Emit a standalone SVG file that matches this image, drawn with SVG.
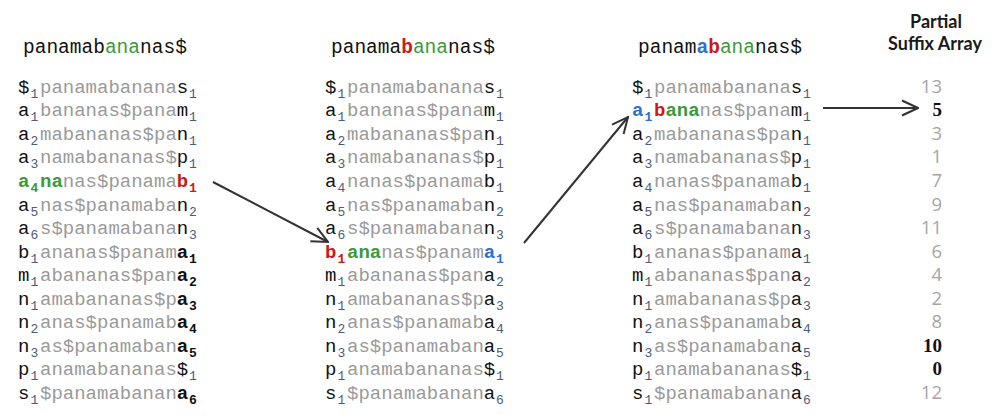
<svg xmlns="http://www.w3.org/2000/svg" width="1000" height="415" viewBox="0 0 1000 415">
<defs>
<style>
text{font-family:"Liberation Mono",monospace;font-size:19px}
.hd{font-size:19.5px;fill:#111}
.k{fill:#111}
.kb{fill:#111;font-weight:bold}
.g{fill:#9a9a9a}
.s{font-size:13px;fill:#4a5c7c}
.sb{font-size:13px;fill:#111;font-weight:bold}
.gb{fill:#3a9a3a;font-weight:bold}
.rb{fill:#cc1a1a;font-weight:bold}
.bb{fill:#2f6fd0;font-weight:bold}
.gn{fill:#3a9a3a}
.sa{font-family:"Open Sans",sans-serif;font-size:18.5px;fill:#a6a6a6;text-anchor:end}
.sab{font-family:"Liberation Serif",serif;font-size:19px;font-weight:bold;fill:#111;text-anchor:end}
.ttl{font-family:"Lato","Open Sans",sans-serif;font-size:18px;font-weight:bold;fill:#1a1a1a;text-anchor:middle}
.arr{stroke:#333;stroke-width:2;fill:none}
</style>
<marker id="ah" viewBox="0 0 18 18" markerWidth="18" markerHeight="18" refX="17" refY="9" orient="auto" markerUnits="userSpaceOnUse">
<path d="M1,1.5 L17,9 L1,16.5" fill="none" stroke="#333" stroke-width="2"/>
</marker>
</defs>
<rect width="1000" height="415" fill="#fff"/>

<g id="col1">
<text class="hd" x="23" y="53">panamab<tspan class="gn">ana</tspan>nas$</text>
<g transform="translate(18,93)"><text><tspan class="k" x="0" y="0">$</tspan><tspan class="s" x="12.5" y="5">1</tspan><tspan class="g" x="22" y="0">panamabanana</tspan><tspan class="k" x="158.8" y="0">s</tspan><tspan class="s" x="171" y="5">1</tspan></text></g>
<g transform="translate(18,116.3)"><text><tspan class="k" x="0" y="0">a</tspan><tspan class="s" x="12.5" y="5">1</tspan><tspan class="g" x="22" y="0">bananas$pana</tspan><tspan class="k" x="158.8" y="0">m</tspan><tspan class="s" x="171" y="5">1</tspan></text></g>
<g transform="translate(18,139.8)"><text><tspan class="k" x="0" y="0">a</tspan><tspan class="s" x="12.5" y="5">2</tspan><tspan class="g" x="22" y="0">mabananas$pa</tspan><tspan class="k" x="158.8" y="0">n</tspan><tspan class="s" x="171" y="5">1</tspan></text></g>
<g transform="translate(18,163.4)"><text><tspan class="k" x="0" y="0">a</tspan><tspan class="s" x="12.5" y="5">3</tspan><tspan class="g" x="22" y="0">namabananas$</tspan><tspan class="k" x="158.8" y="0">p</tspan><tspan class="s" x="171" y="5">1</tspan></text></g>
<g transform="translate(18,186.9)"><text><tspan class="gb" x="0" y="0">a</tspan><tspan class="gb" x="12.5" y="5" style="font-size:13px">4</tspan><tspan class="gb" x="22" y="0">na</tspan><tspan class="g" x="44.8" y="0">nas$panama</tspan><tspan class="rb" x="158.8" y="0">b</tspan><tspan class="rb" x="171" y="5" style="font-size:13px">1</tspan></text></g>
<g transform="translate(18,210.5)"><text><tspan class="k" x="0" y="0">a</tspan><tspan class="s" x="12.5" y="5">5</tspan><tspan class="g" x="22" y="0">nas$panamaba</tspan><tspan class="k" x="158.8" y="0">n</tspan><tspan class="s" x="171" y="5">2</tspan></text></g>
<g transform="translate(18,234.1)"><text><tspan class="k" x="0" y="0">a</tspan><tspan class="s" x="12.5" y="5">6</tspan><tspan class="g" x="22" y="0">s$panamabana</tspan><tspan class="k" x="158.8" y="0">n</tspan><tspan class="s" x="171" y="5">3</tspan></text></g>
<g transform="translate(18,257.6)"><text><tspan class="k" x="0" y="0">b</tspan><tspan class="s" x="12.5" y="5">1</tspan><tspan class="g" x="22" y="0">ananas$panam</tspan><tspan class="kb" x="158.8" y="0">a</tspan><tspan class="sb" x="171" y="5">1</tspan></text></g>
<g transform="translate(18,281.2)"><text><tspan class="k" x="0" y="0">m</tspan><tspan class="s" x="12.5" y="5">1</tspan><tspan class="g" x="22" y="0">abananas$pan</tspan><tspan class="kb" x="158.8" y="0">a</tspan><tspan class="sb" x="171" y="5">2</tspan></text></g>
<g transform="translate(18,304.7)"><text><tspan class="k" x="0" y="0">n</tspan><tspan class="s" x="12.5" y="5">1</tspan><tspan class="g" x="22" y="0">amabananas$p</tspan><tspan class="kb" x="158.8" y="0">a</tspan><tspan class="sb" x="171" y="5">3</tspan></text></g>
<g transform="translate(18,328.3)"><text><tspan class="k" x="0" y="0">n</tspan><tspan class="s" x="12.5" y="5">2</tspan><tspan class="g" x="22" y="0">anas$panamab</tspan><tspan class="kb" x="158.8" y="0">a</tspan><tspan class="sb" x="171" y="5">4</tspan></text></g>
<g transform="translate(18,351.9)"><text><tspan class="k" x="0" y="0">n</tspan><tspan class="s" x="12.5" y="5">3</tspan><tspan class="g" x="22" y="0">as$panamaban</tspan><tspan class="kb" x="158.8" y="0">a</tspan><tspan class="sb" x="171" y="5">5</tspan></text></g>
<g transform="translate(18,375.4)"><text><tspan class="k" x="0" y="0">p</tspan><tspan class="s" x="12.5" y="5">1</tspan><tspan class="g" x="22" y="0">anamabananas</tspan><tspan class="k" x="158.8" y="0">$</tspan><tspan class="s" x="171" y="5">1</tspan></text></g>
<g transform="translate(18,399)"><text><tspan class="k" x="0" y="0">s</tspan><tspan class="s" x="12.5" y="5">1</tspan><tspan class="g" x="22" y="0">$panamabanan</tspan><tspan class="kb" x="158.8" y="0">a</tspan><tspan class="sb" x="171" y="5">6</tspan></text></g>
</g>

<g id="col2">
<text class="hd" x="331" y="53">panama<tspan class="rb">b</tspan><tspan class="gn">ana</tspan>nas$</text>
<g transform="translate(325,93)"><text><tspan class="k" x="0" y="0">$</tspan><tspan class="s" x="12.5" y="5">1</tspan><tspan class="g" x="22" y="0">panamabanana</tspan><tspan class="k" x="158.8" y="0">s</tspan><tspan class="s" x="171" y="5">1</tspan></text></g>
<g transform="translate(325,116.3)"><text><tspan class="k" x="0" y="0">a</tspan><tspan class="s" x="12.5" y="5">1</tspan><tspan class="g" x="22" y="0">bananas$pana</tspan><tspan class="k" x="158.8" y="0">m</tspan><tspan class="s" x="171" y="5">1</tspan></text></g>
<g transform="translate(325,139.8)"><text><tspan class="k" x="0" y="0">a</tspan><tspan class="s" x="12.5" y="5">2</tspan><tspan class="g" x="22" y="0">mabananas$pa</tspan><tspan class="k" x="158.8" y="0">n</tspan><tspan class="s" x="171" y="5">1</tspan></text></g>
<g transform="translate(325,163.4)"><text><tspan class="k" x="0" y="0">a</tspan><tspan class="s" x="12.5" y="5">3</tspan><tspan class="g" x="22" y="0">namabananas$</tspan><tspan class="k" x="158.8" y="0">p</tspan><tspan class="s" x="171" y="5">1</tspan></text></g>
<g transform="translate(325,186.9)"><text><tspan class="k" x="0" y="0">a</tspan><tspan class="s" x="12.5" y="5">4</tspan><tspan class="g" x="22" y="0">nanas$panama</tspan><tspan class="k" x="158.8" y="0">b</tspan><tspan class="s" x="171" y="5">1</tspan></text></g>
<g transform="translate(325,210.5)"><text><tspan class="k" x="0" y="0">a</tspan><tspan class="s" x="12.5" y="5">5</tspan><tspan class="g" x="22" y="0">nas$panamaba</tspan><tspan class="k" x="158.8" y="0">n</tspan><tspan class="s" x="171" y="5">2</tspan></text></g>
<g transform="translate(325,234.1)"><text><tspan class="k" x="0" y="0">a</tspan><tspan class="s" x="12.5" y="5">6</tspan><tspan class="g" x="22" y="0">s$panamabana</tspan><tspan class="k" x="158.8" y="0">n</tspan><tspan class="s" x="171" y="5">3</tspan></text></g>
<g transform="translate(325,257.6)"><text><tspan class="rb" x="0" y="0">b</tspan><tspan class="rb" x="12.5" y="5" style="font-size:13px">1</tspan><tspan class="gb" x="22" y="0">ana</tspan><tspan class="g" x="56.2" y="0">nas$panam</tspan><tspan class="bb" x="158.8" y="0">a</tspan><tspan class="bb" x="171" y="5" style="font-size:13px">1</tspan></text></g>
<g transform="translate(325,281.2)"><text><tspan class="k" x="0" y="0">m</tspan><tspan class="s" x="12.5" y="5">1</tspan><tspan class="g" x="22" y="0">abananas$pan</tspan><tspan class="k" x="158.8" y="0">a</tspan><tspan class="s" x="171" y="5">2</tspan></text></g>
<g transform="translate(325,304.7)"><text><tspan class="k" x="0" y="0">n</tspan><tspan class="s" x="12.5" y="5">1</tspan><tspan class="g" x="22" y="0">amabananas$p</tspan><tspan class="k" x="158.8" y="0">a</tspan><tspan class="s" x="171" y="5">3</tspan></text></g>
<g transform="translate(325,328.3)"><text><tspan class="k" x="0" y="0">n</tspan><tspan class="s" x="12.5" y="5">2</tspan><tspan class="g" x="22" y="0">anas$panamab</tspan><tspan class="k" x="158.8" y="0">a</tspan><tspan class="s" x="171" y="5">4</tspan></text></g>
<g transform="translate(325,351.9)"><text><tspan class="k" x="0" y="0">n</tspan><tspan class="s" x="12.5" y="5">3</tspan><tspan class="g" x="22" y="0">as$panamaban</tspan><tspan class="k" x="158.8" y="0">a</tspan><tspan class="s" x="171" y="5">5</tspan></text></g>
<g transform="translate(325,375.4)"><text><tspan class="k" x="0" y="0">p</tspan><tspan class="s" x="12.5" y="5">1</tspan><tspan class="g" x="22" y="0">anamabananas</tspan><tspan class="k" x="158.8" y="0">$</tspan><tspan class="s" x="171" y="5">1</tspan></text></g>
<g transform="translate(325,399)"><text><tspan class="k" x="0" y="0">s</tspan><tspan class="s" x="12.5" y="5">1</tspan><tspan class="g" x="22" y="0">$panamabanan</tspan><tspan class="k" x="158.8" y="0">a</tspan><tspan class="s" x="171" y="5">6</tspan></text></g>
</g>

<g id="col3">
<text class="hd" x="638" y="53">panam<tspan class="bb">a</tspan><tspan class="rb">b</tspan><tspan class="gn">ana</tspan>nas$</text>
<g transform="translate(632,93)"><text><tspan class="k" x="0" y="0">$</tspan><tspan class="s" x="12.5" y="5">1</tspan><tspan class="g" x="22" y="0">panamabanana</tspan><tspan class="k" x="158.8" y="0">s</tspan><tspan class="s" x="171" y="5">1</tspan></text></g>
<g transform="translate(632,116.3)"><text><tspan class="bb" x="0" y="0">a</tspan><tspan class="bb" x="12.5" y="5" style="font-size:13px">1</tspan><tspan class="rb" x="22" y="0">b</tspan><tspan class="gb" x="33.4" y="0">ana</tspan><tspan class="g" x="67.6" y="0">nas$pana</tspan><tspan class="k" x="158.8" y="0">m</tspan><tspan class="s" x="171" y="5">1</tspan></text></g>
<g transform="translate(632,139.8)"><text><tspan class="k" x="0" y="0">a</tspan><tspan class="s" x="12.5" y="5">2</tspan><tspan class="g" x="22" y="0">mabananas$pa</tspan><tspan class="k" x="158.8" y="0">n</tspan><tspan class="s" x="171" y="5">1</tspan></text></g>
<g transform="translate(632,163.4)"><text><tspan class="k" x="0" y="0">a</tspan><tspan class="s" x="12.5" y="5">3</tspan><tspan class="g" x="22" y="0">namabananas$</tspan><tspan class="k" x="158.8" y="0">p</tspan><tspan class="s" x="171" y="5">1</tspan></text></g>
<g transform="translate(632,186.9)"><text><tspan class="k" x="0" y="0">a</tspan><tspan class="s" x="12.5" y="5">4</tspan><tspan class="g" x="22" y="0">nanas$panama</tspan><tspan class="k" x="158.8" y="0">b</tspan><tspan class="s" x="171" y="5">1</tspan></text></g>
<g transform="translate(632,210.5)"><text><tspan class="k" x="0" y="0">a</tspan><tspan class="s" x="12.5" y="5">5</tspan><tspan class="g" x="22" y="0">nas$panamaba</tspan><tspan class="k" x="158.8" y="0">n</tspan><tspan class="s" x="171" y="5">2</tspan></text></g>
<g transform="translate(632,234.1)"><text><tspan class="k" x="0" y="0">a</tspan><tspan class="s" x="12.5" y="5">6</tspan><tspan class="g" x="22" y="0">s$panamabana</tspan><tspan class="k" x="158.8" y="0">n</tspan><tspan class="s" x="171" y="5">3</tspan></text></g>
<g transform="translate(632,257.6)"><text><tspan class="k" x="0" y="0">b</tspan><tspan class="s" x="12.5" y="5">1</tspan><tspan class="g" x="22" y="0">ananas$panam</tspan><tspan class="k" x="158.8" y="0">a</tspan><tspan class="s" x="171" y="5">1</tspan></text></g>
<g transform="translate(632,281.2)"><text><tspan class="k" x="0" y="0">m</tspan><tspan class="s" x="12.5" y="5">1</tspan><tspan class="g" x="22" y="0">abananas$pan</tspan><tspan class="k" x="158.8" y="0">a</tspan><tspan class="s" x="171" y="5">2</tspan></text></g>
<g transform="translate(632,304.7)"><text><tspan class="k" x="0" y="0">n</tspan><tspan class="s" x="12.5" y="5">1</tspan><tspan class="g" x="22" y="0">amabananas$p</tspan><tspan class="k" x="158.8" y="0">a</tspan><tspan class="s" x="171" y="5">3</tspan></text></g>
<g transform="translate(632,328.3)"><text><tspan class="k" x="0" y="0">n</tspan><tspan class="s" x="12.5" y="5">2</tspan><tspan class="g" x="22" y="0">anas$panamab</tspan><tspan class="k" x="158.8" y="0">a</tspan><tspan class="s" x="171" y="5">4</tspan></text></g>
<g transform="translate(632,351.9)"><text><tspan class="k" x="0" y="0">n</tspan><tspan class="s" x="12.5" y="5">3</tspan><tspan class="g" x="22" y="0">as$panamaban</tspan><tspan class="k" x="158.8" y="0">a</tspan><tspan class="s" x="171" y="5">5</tspan></text></g>
<g transform="translate(632,375.4)"><text><tspan class="k" x="0" y="0">p</tspan><tspan class="s" x="12.5" y="5">1</tspan><tspan class="g" x="22" y="0">anamabananas</tspan><tspan class="k" x="158.8" y="0">$</tspan><tspan class="s" x="171" y="5">1</tspan></text></g>
<g transform="translate(632,399)"><text><tspan class="k" x="0" y="0">s</tspan><tspan class="s" x="12.5" y="5">1</tspan><tspan class="g" x="22" y="0">$panamabanan</tspan><tspan class="k" x="158.8" y="0">a</tspan><tspan class="s" x="171" y="5">6</tspan></text></g>
</g>

<g id="suffix-array">
<text class="ttl" x="936" y="28">Partial</text>
<text class="ttl" x="935" y="50">Suffix Array</text>
<text class="sa" x="942" y="93">13</text>
<text class="sab" x="942" y="116.3">5</text>
<text class="sa" x="942" y="139.8">3</text>
<text class="sa" x="942" y="163.4">1</text>
<text class="sa" x="942" y="186.9">7</text>
<text class="sa" x="942" y="210.5">9</text>
<text class="sa" x="942" y="234.1">11</text>
<text class="sa" x="942" y="257.6">6</text>
<text class="sa" x="942" y="281.2">4</text>
<text class="sa" x="942" y="304.7">2</text>
<text class="sa" x="942" y="328.3">8</text>
<text class="sab" x="942" y="351.9">10</text>
<text class="sab" x="942" y="375.4">0</text>
<text class="sa" x="942" y="399">12</text>
</g>

<g id="connectors">
<line class="arr" x1="213" y1="182" x2="328" y2="242" marker-end="url(#ah)"/>
<line class="arr" x1="524" y1="243" x2="628" y2="117" marker-end="url(#ah)"/>
<line class="arr" x1="823" y1="108" x2="918" y2="108" marker-end="url(#ah)"/>
</g>
</svg>
